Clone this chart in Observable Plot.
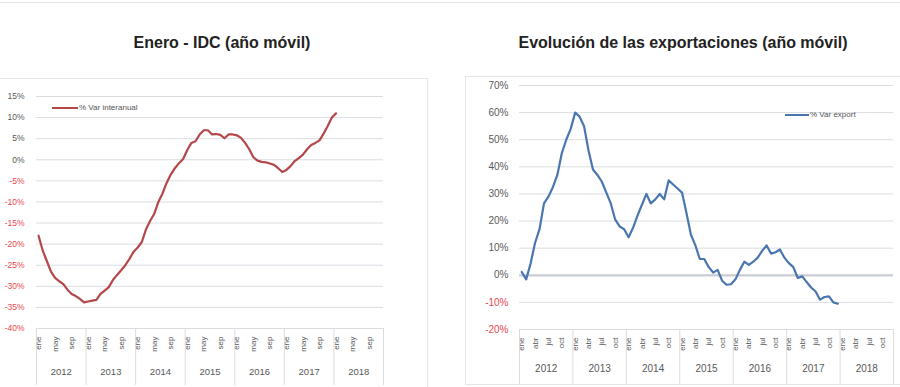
<!DOCTYPE html>
<html>
<head>
<meta charset="utf-8">
<script src="https://cdn.jsdelivr.net/npm/d3@7"></script>
<script src="https://cdn.jsdelivr.net/npm/@observablehq/plot@0.6"></script>
<style>
  html, body { margin: 0; padding: 0; background: #fff; }
  #page { position: relative; width: 900px; height: 387px; overflow: hidden; background: #fff; font-family: "Liberation Sans", Arial, sans-serif; }
  .title { position: absolute; top: 34px; font-weight: bold; font-size: 16px; color: #222; white-space: nowrap; transform: translateX(-50%); }
  .frame { position: absolute; border: 1px solid #e3e6ea; box-sizing: border-box; }
  .chart { position: absolute; }
  .legend { position: absolute; display: flex; align-items: center; font-size: 8px; color: #555; white-space: nowrap; }
  .legend .sw { display: inline-block; height: 2px; margin-right: 1px; }
</style>
</head>
<body>
<div id="page">
  <div class="frame" style="left:-2px; top:2px; width:904px; height:1px; border-width:1px 0 0 0;"></div>
  <div class="frame" style="left:-2px; top:78px; width:430px; height:312px;"></div>
  <div class="frame" style="left:465px; top:76px; width:440px; height:309px;"></div>
  <div class="title" style="left:222px;">Enero - IDC (año móvil)</div>
  <div class="title" style="left:683px;">Evolución de las exportaciones (año móvil)</div>
  <div class="chart" id="left" style="left:0px; top:80px;"></div>
  <div class="chart" id="right" style="left:440px; top:70px;"></div>
  <div class="legend" style="left:52px; top:103px;"><span class="sw" style="width:26px; background:#b3474a;"></span>% Var interanual</div>
  <div class="legend" style="left:785px; top:110px;"><span class="sw" style="width:24px; background:#4a76b0;"></span>% Var export</div>
</div>
<script>
const monthNames = ["ene","feb","mar","abr","may","jun","jul","ago","sep","oct","nov","dic"];
const years = ["2012","2013","2014","2015","2016","2017","2018"];
const idcTickMonths = ["ene","may","sep"];
const expTickMonths = ["ene","abr","jul","oct"];
const idcYTicks = [15,10,5,0,-5,-10,-15,-20,-25,-30,-35,-40];
const expYTicks = [70,60,50,40,30,20,10,0,-10,-20];

// IDC % var interanual, monthly from ene 2012 to ene 2018
const idcValues = [
  -18,-21.5,-24,-26.5,-28,-28.8,-29.5,-30.8,-31.8,-32.3,-33,-33.8,
  -33.6,-33.4,-33.2,-31.8,-31,-30.2,-28.5,-27.3,-26.2,-25,-23.5,-21.8,
  -20.8,-19.5,-16.5,-14.5,-12.8,-10,-8,-5.5,-3.5,-2,-0.8,0.2,
  2.3,4,4.4,6,7,7,6,6.1,5.9,5.1,6,6,
  5.8,5.2,4,2.5,0.6,-0.2,-0.5,-0.6,-0.9,-1.2,-2,-2.9,
  -2.4,-1.5,-0.3,0.4,1.2,2.5,3.5,4,4.6,6.2,8,10,
  11
];

// Exportaciones % var, monthly from ene 2012 to dic 2017
const exportValues = [
  1.2,-1.5,4.4,12,17,26.5,29,32.5,37,45,50,54,
  60,58.5,55,46,39,37,34.5,30.5,26.5,20.5,18,17,
  14,17.5,22,26,30,26.5,28,30,28,35,33.5,32,
  30.5,23,15,11,6,6,3,1,2,-2,-3.5,-3.3,
  -1.5,2,5,3.8,5,6.5,9,11,8,8.5,9.5,6.5,
  4.5,3,-1,-0.4,-2.5,-4.5,-6,-9,-8,-7.8,-10,-10.5
];

const gray = "#595959";
const red = "#e8474f";
const nMonths = years.length * 12;

function makeChart({values, color, yTicks, tickMonths, width, height, margins, yearPadding, labelFont, yearFont, zeroBold}) {
  const data = values.map((v, i) => ({x: i + 0.5, v}));
  const monthTicks = years.flatMap((_, yi) => tickMonths.map(m => yi * 12 + monthNames.indexOf(m) + 0.5));
  const yearTicks = years.map((_, yi) => yi * 12 + 6);
  const sepTicks = d3.range(0, nMonths + 1, 12);
  const yMin = d3.min(yTicks), yMax = d3.max(yTicks);
  const marks = [
    Plot.gridY(yTicks, {stroke: "#d9dde2", strokeOpacity: 1}),
  ];
  if (zeroBold) marks.push(Plot.ruleY([0], {stroke: "#c9ced4", strokeWidth: 2.2}));
  marks.push(
    Plot.axisY(yTicks.filter(d => d >= 0), {label: null, tickSize: 0, tickPadding: margins.yPad, tickFormat: d => d + "%", fill: gray, fontSize: labelFont}),
    Plot.axisY(yTicks.filter(d => d < 0), {label: null, tickSize: 0, tickPadding: margins.yPad, tickFormat: d => d + "%", fill: red, fontSize: labelFont}),
    Plot.axisX(sepTicks, {label: null, tickSize: margins.bottom - 2, stroke: "#d9dde2", strokeOpacity: 1, tickFormat: () => ""}),
    Plot.axisX(monthTicks, {label: null, tickSize: 0, tickPadding: 8, tickRotate: -90, tickFormat: d => monthNames[Math.floor(d) % 12], fill: gray, fontSize: 8}),
    Plot.axisX(yearTicks, {label: null, tickSize: 0, tickPadding: yearPadding, tickFormat: d => years[Math.floor(d / 12)], fill: gray, fontSize: yearFont}),
    Plot.line(data, {x: "x", y: "v", stroke: color, strokeWidth: 2.2, curve: "linear"})
  );
  return Plot.plot({
    width, height,
    marginLeft: margins.left, marginRight: margins.right, marginTop: margins.top, marginBottom: margins.bottom,
    x: {type: "linear", domain: [0, nMonths], label: null},
    y: {type: "linear", domain: [yMin, yMax], label: null},
    style: {fontFamily: "'Liberation Sans', Arial, sans-serif", fontSize: "8.5px", background: "transparent", overflow: "visible"},
    marks
  });
}

document.getElementById("left").append(makeChart({
  values: idcValues, color: "#b3474a", yTicks: idcYTicks, tickMonths: idcTickMonths,
  width: 430, height: 307,
  margins: {left: 36, right: 47, top: 16, bottom: 59, yPad: 12},
  yearPadding: 40, labelFont: 8.5, yearFont: 9.5, zeroBold: false
}));

document.getElementById("right").append(makeChart({
  values: exportValues, color: "#4a76b0", yTicks: expYTicks, tickMonths: expTickMonths,
  width: 460, height: 317,
  margins: {left: 79, right: 7, top: 15, bottom: 58, yPad: 11},
  yearPadding: 35, labelFont: 10, yearFont: 10, zeroBold: true
}));
</script>
</body>
</html>
